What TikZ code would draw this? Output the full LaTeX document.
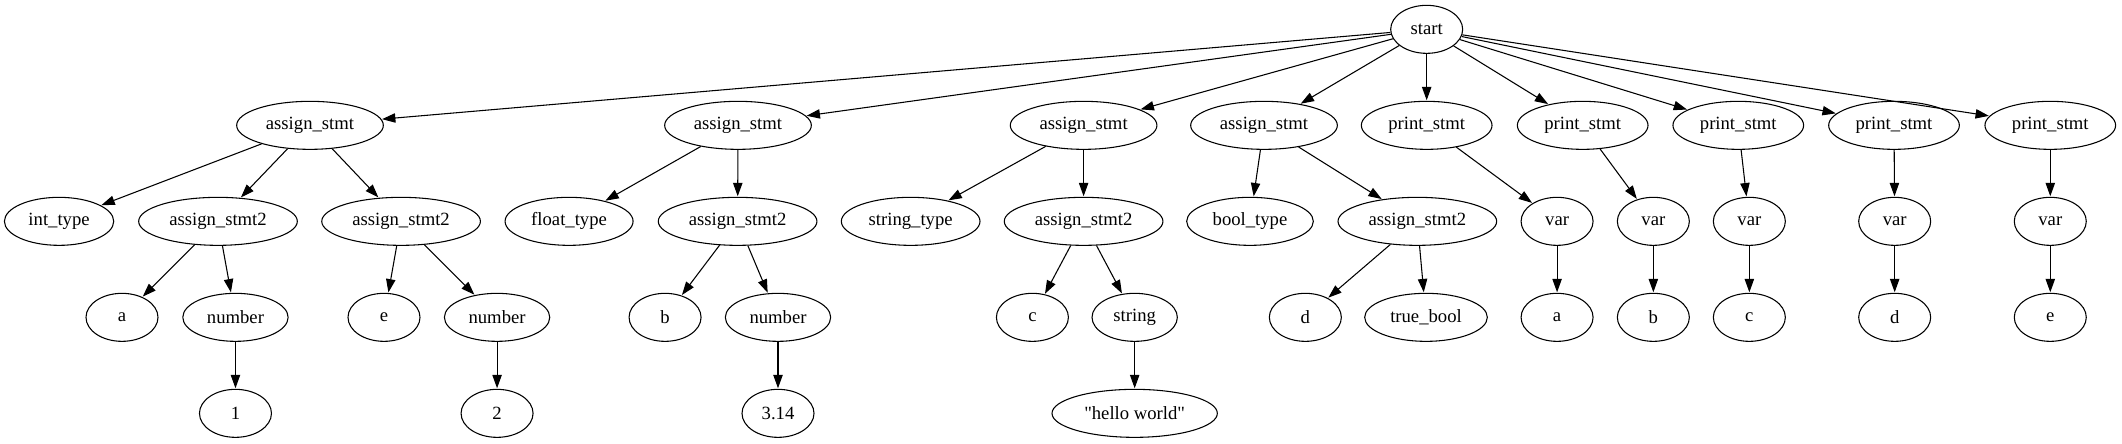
\documentclass[tikz,border=0pt]{standalone}
\usepackage{fontspec}
\setmainfont{Liberation Serif}
\usetikzlibrary{shapes.geometric,arrows.meta}
\tikzset{
  nd/.style={draw, ellipse, line width=0.8pt, inner sep=0pt, minimum width=54pt, minimum height=36pt, font=\fontsize{14pt}{16pt}\selectfont},
  edge/.style={line width=0.8pt, -{Triangle[length=10pt,width=7pt]}, shorten >=0.4pt},
}
\begin{document}
\begin{tikzpicture}
\useasboundingbox (0,0) rectangle (1591.5pt,-332.25pt);
% rank 0
\node[nd] (start) at (1070pt,-22pt) {start};
% rank 1
\node[nd, minimum width=110pt] (as1) at (232.5pt,-94pt) {assign\_stmt};
\node[nd, minimum width=110pt] (as2) at (553.5pt,-94pt) {assign\_stmt};
\node[nd, minimum width=110pt] (as3) at (812.7pt,-94pt) {assign\_stmt};
\node[nd, minimum width=110pt] (as4) at (948pt,-94pt) {assign\_stmt};
\node[nd, minimum width=98pt] (ps1) at (1070pt,-94pt) {print\_stmt};
\node[nd, minimum width=98pt] (ps2) at (1187pt,-94pt) {print\_stmt};
\node[nd, minimum width=98pt] (ps3) at (1303.7pt,-94pt) {print\_stmt};
\node[nd, minimum width=98pt] (ps4) at (1420.5pt,-94pt) {print\_stmt};
\node[nd, minimum width=98pt] (ps5) at (1537.7pt,-94pt) {print\_stmt};
% rank 2
\node[nd, minimum width=82pt] (inttype) at (44.3pt,-166pt) {int\_type};
\node[nd, minimum width=119pt] (asa) at (163.5pt,-166pt) {assign\_stmt2};
\node[nd, minimum width=119pt] (ase) at (300.8pt,-166pt) {assign\_stmt2};
\node[nd, minimum width=96pt] (floattype) at (426.8pt,-166pt) {float\_type};
\node[nd, minimum width=119pt] (asb) at (553.2pt,-166pt) {assign\_stmt2};
\node[nd, minimum width=104pt] (stringtype) at (683pt,-166pt) {string\_type};
\node[nd, minimum width=119pt] (asc) at (812.7pt,-166pt) {assign\_stmt2};
\node[nd, minimum width=95pt] (booltype) at (937.5pt,-166pt) {bool\_type};
\node[nd, minimum width=119pt] (asd) at (1063pt,-166pt) {assign\_stmt2};
\node[nd] (v1) at (1167.8pt,-166pt) {var};
\node[nd] (v2) at (1240pt,-166pt) {var};
\node[nd] (v3) at (1312pt,-166pt) {var};
\node[nd] (v4) at (1421pt,-166pt) {var};
\node[nd] (v5) at (1537.7pt,-166pt) {var};
% rank 3
\node[nd] (ia) at (91.5pt,-238pt) {a};
\node[nd, minimum width=79pt] (num1) at (176.6pt,-238pt) {number};
\node[nd] (ie) at (288pt,-238pt) {e};
\node[nd, minimum width=79pt] (num2) at (372.8pt,-238pt) {number};
\node[nd] (ib) at (498.8pt,-238pt) {b};
\node[nd, minimum width=79pt] (num3) at (583.5pt,-238pt) {number};
\node[nd] (ic) at (774.3pt,-238pt) {c};
\node[nd, minimum width=64pt] (str) at (851pt,-238pt) {string};
\node[nd] (id) at (979pt,-238pt) {d};
\node[nd, minimum width=92pt] (tb) at (1069.5pt,-238pt) {true\_bool};
\node[nd] (pa) at (1167.8pt,-238pt) {a};
\node[nd] (pb) at (1240pt,-238pt) {b};
\node[nd] (pc) at (1312pt,-238pt) {c};
\node[nd] (pd) at (1421pt,-238pt) {d};
\node[nd] (pe) at (1537.7pt,-238pt) {e};
% rank 4
\node[nd] (n1) at (176.6pt,-310pt) {1};
\node[nd] (n2) at (372.8pt,-310pt) {2};
\node[nd] (n3) at (583.5pt,-310pt) {3.14};
\node[nd, minimum width=124pt] (hw) at (851pt,-310pt) {\textquotedbl hello world\textquotedbl};
% edges
\foreach \t in {as1,as2,as3,as4,ps1,ps2,ps3,ps4,ps5} \draw[edge] (start) -- (\t);
\draw[edge] (as1) -- (inttype);
\draw[edge] (as1) -- (asa);
\draw[edge] (as1) -- (ase);
\draw[edge] (asa) -- (ia);
\draw[edge] (asa) -- (num1);
\draw[edge] (num1) -- (n1);
\draw[edge] (ase) -- (ie);
\draw[edge] (ase) -- (num2);
\draw[edge] (num2) -- (n2);
\draw[edge] (as2) -- (floattype);
\draw[edge] (as2) -- (asb);
\draw[edge] (asb) -- (ib);
\draw[edge] (asb) -- (num3);
\draw[edge] (num3) -- (n3);
\draw[edge] (as3) -- (stringtype);
\draw[edge] (as3) -- (asc);
\draw[edge] (asc) -- (ic);
\draw[edge] (asc) -- (str);
\draw[edge] (str) -- (hw);
\draw[edge] (as4) -- (booltype);
\draw[edge] (as4) -- (asd);
\draw[edge] (asd) -- (id);
\draw[edge] (asd) -- (tb);
\draw[edge] (ps1) -- (v1);
\draw[edge] (ps2) -- (v2);
\draw[edge] (ps3) -- (v3);
\draw[edge] (ps4) -- (v4);
\draw[edge] (ps5) -- (v5);
\draw[edge] (v1) -- (pa);
\draw[edge] (v2) -- (pb);
\draw[edge] (v3) -- (pc);
\draw[edge] (v4) -- (pd);
\draw[edge] (v5) -- (pe);
\end{tikzpicture}
\end{document}
